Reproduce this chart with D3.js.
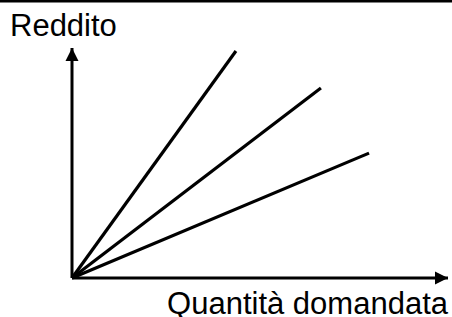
<!DOCTYPE html>
<html>
<head>
<meta charset="utf-8">
<script src="https://cdn.jsdelivr.net/npm/d3@7"></script>
<style>
  body { margin: 0; background: #fff; }
  svg { display: block; }
</style>
</head>
<body>
<div class="svg-div"></div>
<script>
// axis labels
var yLabel = "Reddito";
var xLabel = "Quantità domandata";

// end points of the three income lines (all start at the origin)
var lineNames = ["ripida", "media", "piatta"];
var lineEndX = [43.6, 66.2, 79.0];
var lineEndY = [98.7, 82.6, 54.3];

var w = 452;
var h = 317;

var svg = d3.select(".svg-div")
    .append("svg")
    .attr("width", w)
    .attr("height", h);

// scales
var x = d3.scaleLinear().domain([0, 100]).range([72, 448]);
var y = d3.scaleLinear().domain([0, 100]).range([278, 48]);

// top border
svg.append("line")
    .attr("x1", 0).attr("x2", w)
    .attr("y1", 1).attr("y2", 1)
    .attr("stroke", "#000")
    .attr("stroke-width", 3);

// arrow markers
var defs = svg.append("defs");
defs.append("marker")
    .attr("id", "arrow")
    .attr("viewBox", "0 0 10 10")
    .attr("refX", 10)
    .attr("refY", 5)
    .attr("markerWidth", 4.4)
    .attr("markerHeight", 4.4)
    .attr("markerUnits", "strokeWidth")
    .attr("orient", "auto")
    .append("path")
    .attr("d", "M0,0 L10,5 L0,10 Z")
    .attr("fill", "#000");

// axes
svg.append("line")
    .attr("x1", x(0)).attr("y1", y(0))
    .attr("x2", x(0)).attr("y2", y(100))
    .attr("stroke", "#000")
    .attr("stroke-width", 3)
    .attr("marker-end", "url(#arrow)");

svg.append("line")
    .attr("x1", x(0)).attr("y1", y(0))
    .attr("x2", x(100)).attr("y2", y(0))
    .attr("stroke", "#000")
    .attr("stroke-width", 3)
    .attr("marker-end", "url(#arrow)");

// income lines
svg.selectAll(".reddito-line")
    .data(lineNames)
    .enter()
    .append("line")
    .attr("class", "reddito-line")
    .attr("x1", x(0))
    .attr("y1", y(0))
    .attr("x2", function(d, i) { return x(lineEndX[i]); })
    .attr("y2", function(d, i) { return y(lineEndY[i]); })
    .attr("stroke", "#000")
    .attr("stroke-width", 3.2);

// labels
svg.append("text")
    .attr("x", 10)
    .attr("y", 36)
    .attr("font-family", "Arial, 'Liberation Sans', sans-serif")
    .attr("font-size", 31)
    .text(yLabel);

svg.append("text")
    .attr("x", 448)
    .attr("y", 314)
    .attr("text-anchor", "end")
    .attr("font-family", "Arial, 'Liberation Sans', sans-serif")
    .attr("font-size", 31)
    .text(xLabel);
</script>
</body>
</html>
